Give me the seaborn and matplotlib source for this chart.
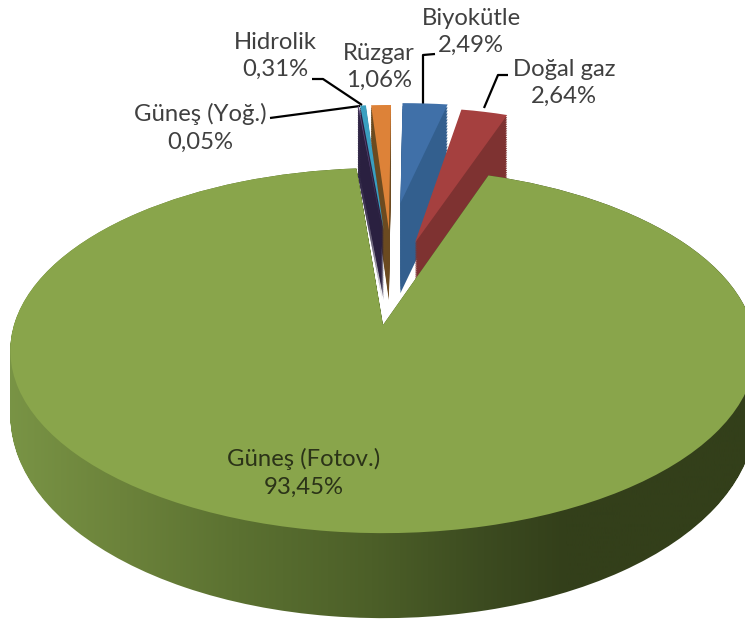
import numpy as np
import matplotlib
matplotlib.use('Agg')
import matplotlib.pyplot as plt
import matplotlib.transforms as mtransforms
from matplotlib.colors import LinearSegmentedColormap
from matplotlib.path import Path
import seaborn as sns

# values of the chart, in pie order (clockwise)
names = ['Güneş (Yoğ.)', 'Hidrolik', 'Rüzgar', 'Biyokütle', 'Doğal gaz', 'Güneş (Fotov.)']
shares = [0.05, 0.31, 1.06, 2.49, 2.64, 93.45]
explode = [0.40, 0.40, 0.40, 0.34, 0.33, 0.0]
face_colors = ['#5f4a7b', '#3a9fc0', '#dd8238', '#4070a8', '#a5403f', '#89a54b']
wall_colors = ['#2a2040', '#2a2040', '#6b4a20', '#335f8e', '#7e3231', '#333f1a']
draw_order = [2, 1, 0, 3, 4, 5]

# plane of each exploded slice: centre y, scales, wall height
slice_cy = [280, 280, 280, 237, 286]
slice_a = [300, 300, 300, 290, 285]
slice_b = [125, 125, 125, 100, 135]
slice_drop = [70, 70, 70, 90, 66]

label_xy = [(200, 128), (275, 56), (379, 67), (471, 32), (564, 83), (304, 473)]
leaders = [
    [(270, 118), (360, 106)],
    [(312, 79), (323, 79), (362, 105)],
    [(435, 54), (423, 55), (423, 106)],
    [(508, 75), (498, 75), (484, 108)],
]


class PiePlane(mtransforms.Transform):
    # tilted plane of the pie -> pixel position, with a drop for the side wall
    input_dims = 2
    output_dims = 2

    def __init__(self, cx, cy, a, b, k=0.0, drop=0.0, drop_slope=0.0):
        super().__init__()
        self.cx, self.cy, self.a, self.b = cx, cy, a, b
        self.k, self.drop, self.drop_slope = k, drop, drop_slope

    def transform_non_affine(self, values):
        values = np.asarray(values, dtype=float)
        u, v = values[:, 0], values[:, 1]
        w = 1 + self.k * v
        x = self.cx + self.a * u / w
        y = self.cy - self.b * v / w + self.drop - self.drop_slope * v
        return np.column_stack([x, y])


def main_plane(t=0.0):
    return PiePlane(383, 325, 369, 179, k=0.14, drop=61 * t, drop_slope=24 * t)


def slice_plane(j, t=0.0):
    return PiePlane(392, slice_cy[j], slice_a[j], slice_b[j], drop=slice_drop[j] * t)


def pie_layer(ax, colors):
    wedges, _ = ax.pie(shares, explode=explode, colors=colors, startangle=94.7,
                       counterclock=False, wedgeprops={'linewidth': 0, 'edgecolor': 'none'})
    return wedges


def main():
    sns.set_theme(style='white')
    plt.rcParams['font.family'] = ['Lato', 'DejaVu Sans']

    fig = plt.figure(figsize=(7.45, 6.2), dpi=100)
    ax = fig.add_axes([0, 0, 1, 1])

    # small slices: wall built from stacked copies, then the top face
    n_layers = 30
    for i in range(n_layers, 0, -1):
        t = i / n_layers
        wedges = pie_layer(ax, wall_colors)
        for j, wedge in enumerate(wedges):
            if j == 5:
                wedge.remove()
                continue
            wedge.set_transform(slice_plane(j, t) + ax.transData)
            wedge.set_zorder(1 + 2 * draw_order.index(j))

    wedges = pie_layer(ax, face_colors)
    for j, wedge in enumerate(wedges):
        if j == 5:
            continue
        wedge.set_transform(slice_plane(j) + ax.transData)
        wedge.set_zorder(2 + 2 * draw_order.index(j))

    # big slice: side wall has a horizontal gradient clipped to the swept shape
    big = wedges[5]
    big.set_transform(main_plane() + ax.transData)
    big.set_zorder(21)
    base_path = big.get_path()
    swept = Path.make_compound_path(*[
        main_plane(t).transform_path(base_path) for t in np.linspace(0, 1, 60)
    ])
    wall_cmap = LinearSegmentedColormap.from_list('wall', [
        (0.0, '#7a9546'), (0.16, '#6c833b'), (0.32, '#5b7131'),
        (0.50, '#4c5f28'), (0.65, '#3c4b20'), (0.76, '#333f1a'), (1.0, '#333f1a'),
    ])
    im = ax.imshow(np.linspace(0, 1, 256)[None, :], extent=(0, 745, 620, 0), aspect='auto',
                   cmap=wall_cmap, interpolation='bilinear', zorder=20)
    im.set_clip_path(swept, ax.transData)

    ax.set_aspect('auto')
    ax.set_xlim(0, 745)
    ax.set_ylim(620, 0)
    ax.axis('off')

    for line in leaders:
        xs, ys = zip(*line)
        ax.plot(xs, ys, color='black', lw=1.6, zorder=5, solid_capstyle='butt')

    for i, (name, share) in enumerate(zip(names, shares)):
        text = name + '\n' + f'{share:.2f}%'.replace('.', ',')
        color = '#2b3318' if i == 5 else '#404040'
        ax.text(label_xy[i][0], label_xy[i][1], text, ha='center', va='center', fontsize=17.2,
                color=color, linespacing=1.38, zorder=30)

    fig.savefig('out.png', dpi=100)


if __name__ == '__main__':
    main()
